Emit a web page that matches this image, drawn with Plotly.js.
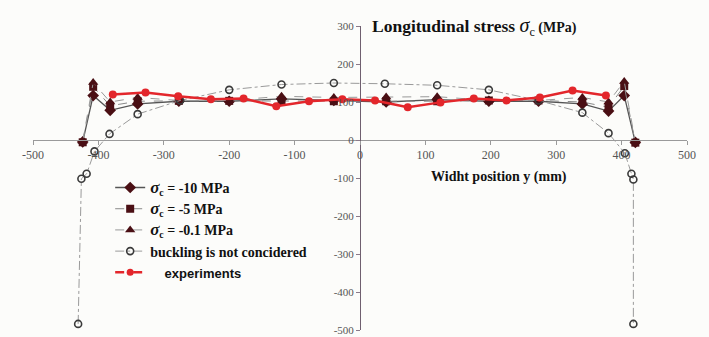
<!DOCTYPE html>
<html>
<head>
<meta charset="utf-8">
<script src="https://cdn.plot.ly/plotly-3.0.1.min.js"></script>
<style>html,body{margin:0;padding:0;background:#fcfcfa;}#chart{width:709px;height:337px;}</style>
</head>
<body>
<div id="chart"></div>
<script>
// FEM positions (mm)
var xFem = [-424, -408, -382, -340, -277, -200, -120, -40, 40, 118, 197, 273, 340, 380, 404, 421];
var sig10 = [-5, 117, 78, 95, 102, 102, 108, 104, 100, 106, 102, 102, 95, 76, 117, -6];
var sig5 = [-6, 140, 90, 102, 103, 103, 102, 102, 102, 102, 104, 104, 100, 86, 142, -7];
var sig01 = [-3, 151, 100, 112, 104, 104, 115, 112, 113, 114, 104, 104, 112, 100, 154, -4];

// buckling not considered
var xBuck = [-431, -426, -418, -406, -383, -340, -275, -200, -120, -40, 38, 118, 197, 273, 340, 380, 405, 415, 418, 418];
var yBuck = [-484, -102, -89, -30, 16, 68, 104, 132, 146, 150, 148, 144, 132, 104, 72, 18, -35, -89, -104, -484];

// experiments
var xExp = [-378, -328, -278, -228, -178, -128, -78, -27, 23, 73, 123, 174, 224, 275, 325, 376];
var yExp = [120, 125, 115, 107, 109, 89, 102, 107, 104, 86, 99, 109, 104, 112, 130, 117];

var xTicks = [-500, -400, -300, -200, -100, 0, 100, 200, 300, 400, 500];
var yTicks = [-500, -400, -300, -200, -100, 0, 100, 200, 300];

var dark = '#4a0f14';
var sig = '<span style="font-size:17px"><i>σ</i></span><sub>c</sub>';
var serif = 'Liberation Serif, Times New Roman, serif';

var traces = [
  {x: xFem, y: sig10, mode: 'lines+markers', name: sig + ' = -10 MPa',
   line: {color: '#555', width: 1.3}, marker: {symbol: 'diamond', size: 9, color: dark}},
  {x: xFem, y: sig5, mode: 'lines+markers', name: sig + ' = -5 MPa',
   line: {color: '#8a8a8a', width: 1, dash: 'dash'}, marker: {symbol: 'square', size: 8, color: dark}},
  {x: xFem, y: sig01, mode: 'lines+markers', name: sig + ' = -0.1 MPa',
   line: {color: '#999', width: 1, dash: 'dash'}, marker: {symbol: 'triangle-up', size: 9, color: dark}},
  {x: xBuck, y: yBuck, mode: 'lines+markers', name: 'buckling is not concidered',
   line: {color: '#9a9a9a', width: 1, dash: 'dashdot'},
   marker: {symbol: 'circle-open', size: 7, color: '#3a3a3a', line: {width: 1.6, color: '#3a3a3a'}}},
  {x: xExp, y: yExp, mode: 'lines+markers', name: 'experiments', showlegend: false,
   line: {color: '#e3262b', width: 2.5}, marker: {symbol: 'circle', size: 8, color: '#e3262b'}},
  {x: [null], y: [null], mode: 'lines+markers',
   name: '<span style="font-family:Liberation Sans, Arial, sans-serif;font-size:13px">    experiments</span>',
   line: {color: '#e3262b', width: 2.5, dash: 'dash'}, marker: {symbol: 'circle', size: 7, color: '#e3262b'}}
];

var layout = {
  width: 709, height: 337,
  paper_bgcolor: '#fcfcfa', plot_bgcolor: 'rgba(0,0,0,0)',
  margin: {l: 33, r: 22, t: 26, b: 7},
  font: {family: serif, color: '#222'},
  xaxis: {range: [-500, 500], tickvals: xTicks, ticktext: xTicks.map(String),
          anchor: 'free', position: 0.625, showline: true, linecolor: '#9a9a9a', linewidth: 1,
          ticks: 'outside', ticklen: 4, tickcolor: '#9a9a9a', showgrid: false, zeroline: false,
          ticklabeloverflow: 'allow',
          tickfont: {family: serif, size: 12, color: '#555'}},
  yaxis: {range: [-500, 300], tickvals: yTicks, ticktext: yTicks.map(String),
          anchor: 'free', position: 0.5, showline: true, linecolor: '#6f5f6f', linewidth: 1,
          ticks: 'outside', ticklen: 4, tickcolor: '#8a7a8a', showgrid: false, zeroline: false,
          ticklabeloverflow: 'allow',
          tickfont: {family: serif, size: 11, color: '#555'}},
  showlegend: true,
  legend: {x: 0.118, y: 0.52, xanchor: 'left', yanchor: 'top', bgcolor: 'rgba(0,0,0,0)',
           font: {family: serif, size: 14, color: '#111', weight: 'bold'}, tracegroupgap: 0},
  annotations: [
    {xref: 'x', yref: 'y', x: 15, y: 300, xanchor: 'left', yanchor: 'middle', showarrow: false,
     text: '<b>Longitudinal stress </b><span style="font-size:20px"><i>σ</i></span><sub>c</sub><b><span style="font-size:14px"> (MPa)</span></b>',
     font: {family: serif, size: 17.5, color: '#111'}},
    {xref: 'x', yref: 'y', x: 105, y: -97, xanchor: 'left', yanchor: 'middle', showarrow: false,
     text: '<b>Widht position y (mm)</b>', font: {family: serif, size: 14, color: '#111'}}
  ]
};

Plotly.newPlot('chart', traces, layout, {displayModeBar: false, staticPlot: true});
</script>
</body>
</html>
